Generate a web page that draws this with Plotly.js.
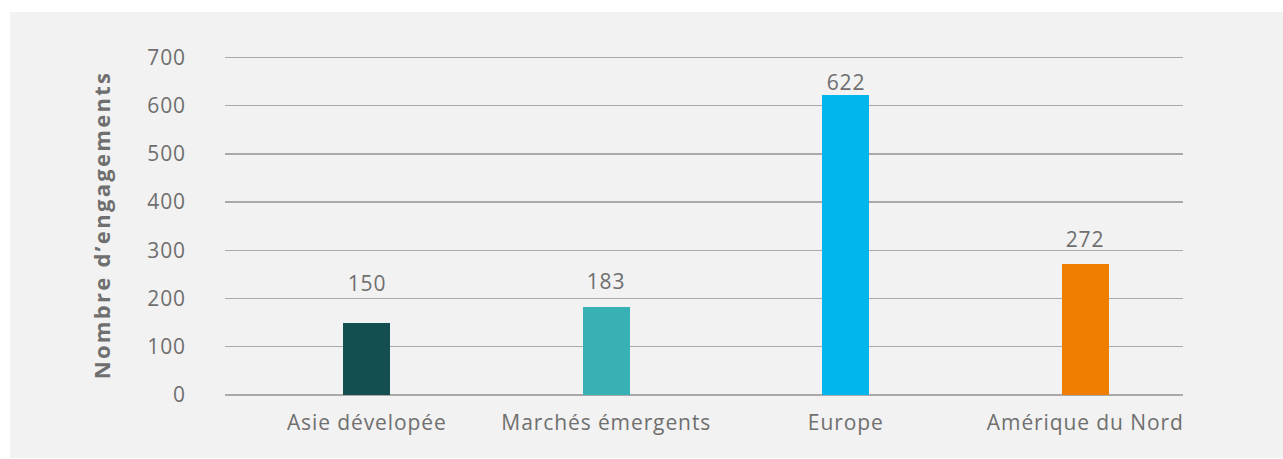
<!DOCTYPE html>
<html><head><meta charset="utf-8">
<script src="https://cdn.plot.ly/plotly-3.0.1.min.js"></script>
<style>
html,body{margin:0;padding:0;background:#ffffff;width:1283px;height:459px;overflow:hidden;}
#chart{position:absolute;left:10px;top:12px;width:1273px;height:446px;background:#f2f2f2;}
#chart svg text{letter-spacing:0.9px;}
#chart svg .ytitle{letter-spacing:2.3px;}
</style></head>
<body><div id="chart"></div>
<script>
const categories = ["Asie dévelopée", "Marchés émergents", "Europe", "Amérique du Nord"];
const values = [150, 183, 622, 272];
const barColors = ["#134f50", "#38b1b4", "#00b6ec", "#ef7d00"];
const yTickVals = [0, 100, 200, 300, 400, 500, 600, 700];
const labelShift = [40, 26, 13, 25];

const textColor = "#6f6f6f";
const fontFam = "'Open Sans', sans-serif";

const trace = {
  type: "bar",
  x: categories,
  y: values,
  width: 0.195,
  marker: {color: barColors},
  hoverinfo: "x+y"
};

const annotations = categories.map((c, i) => ({
  x: c, y: values[i], xref: "x", yref: "y",
  text: String(values[i]), showarrow: false,
  yanchor: "middle", yshift: labelShift[i],
  font: {family: fontFam, size: 21, color: textColor}
}));

const layout = {
  width: 1273, height: 446,
  margin: {l: 215, r: 100, t: 43, b: 63},
  paper_bgcolor: "#f2f2f2",
  plot_bgcolor: "#f2f2f2",
  showlegend: false,
  bargap: 0,
  xaxis: {
    type: "category",
    range: [-0.592, 3.408],
    showgrid: false, zeroline: false, showline: false,
    ticks: "", ticklabelstandoff: 13,
    tickfont: {family: fontFam, size: 21, color: textColor}
  },
  yaxis: {
    range: [0, 705],
    tickvals: yTickVals,
    showgrid: true, gridcolor: "#a9a9a9", gridwidth: 1.4,
    zeroline: true, zerolinecolor: "#a9a9a9", zerolinewidth: 1.4,
    showline: false, ticks: "", ticklabelstandoff: 38,
    tickfont: {family: fontFam, size: 21, color: textColor},
    title: {text: "<b>Nombre d’engagements</b>", standoff: 33,
            font: {family: fontFam, size: 22, color: textColor}}
  },
  annotations: annotations
};

Plotly.newPlot("chart", [trace], layout, {displayModeBar: false, staticPlot: true});
</script></body></html>
